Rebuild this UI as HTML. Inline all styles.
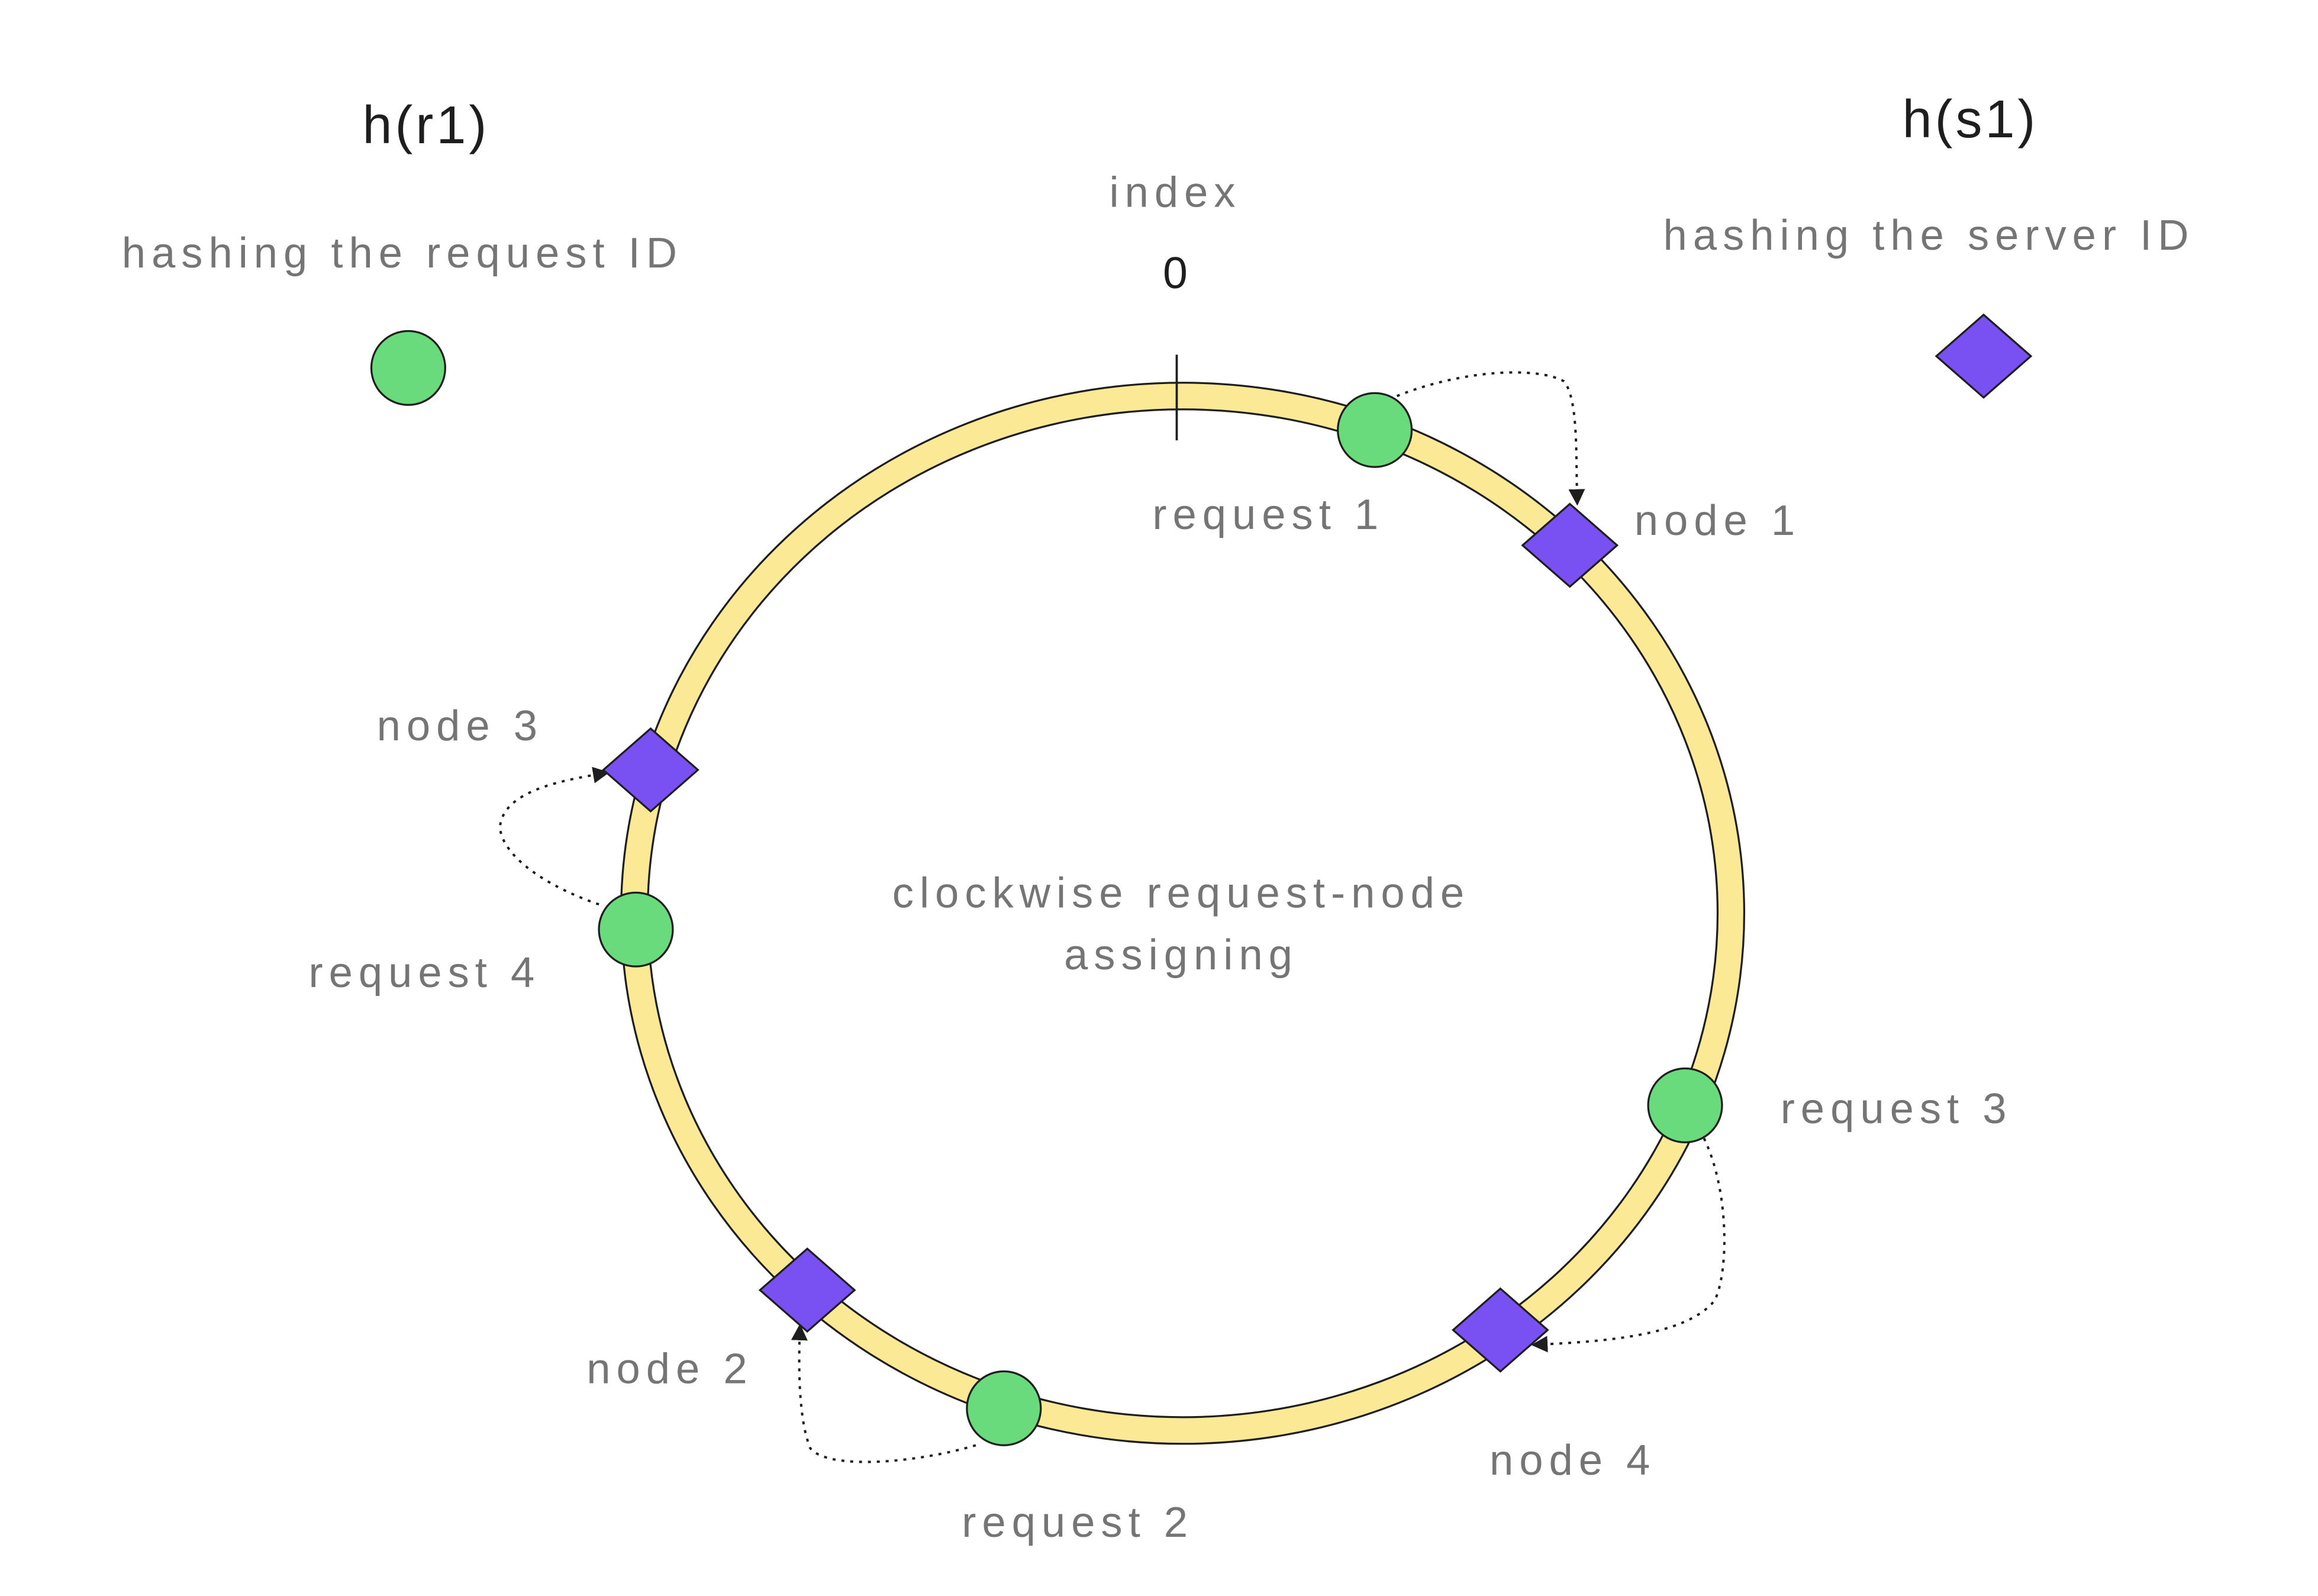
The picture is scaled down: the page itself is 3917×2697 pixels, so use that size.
<!DOCTYPE html>
<html><head><meta charset="utf-8"><style>
html,body{margin:0;padding:0;background:#fff;}
svg{display:block;}
text{font-family:"Liberation Sans",sans-serif;}
</style></head><body>
<svg width="3917" height="2697" viewBox="0 0 1568 1080" xmlns="http://www.w3.org/2000/svg">
<defs>
<marker id="ah" viewBox="0 0 10 10" refX="8" refY="5" markerWidth="7" markerHeight="7" orient="auto-start-reverse">
<path d="M0,0 L10,5 L0,10 z" fill="#1e1e1e"/></marker>
</defs>
<rect width="1568" height="1080" fill="#fff"/>
<ellipse cx="800" cy="618" rx="371" ry="350" fill="none" stroke="#fbe995" stroke-width="18"/>
<ellipse cx="800" cy="618" rx="380" ry="359" fill="none" stroke="#1e1e1e" stroke-width="1.3"/>
<ellipse cx="800" cy="618" rx="362" ry="341" fill="none" stroke="#1e1e1e" stroke-width="1.3"/>
<line x1="796" y1="240" x2="796" y2="298" stroke="#1e1e1e" stroke-width="1.5"/>
<g fill="none" stroke="#1e1e1e" stroke-width="1.6" stroke-dasharray="2,4">
<path d="M945,268 C990,250 1040,248 1058,258 C1068,270 1066,310 1067,340" marker-end="url(#ah)"/>
<path d="M1150,765 C1170,800 1170,860 1160,880 C1140,905 1080,908 1038,910" marker-end="url(#ah)"/>
<path d="M660,978 C620,990 560,995 548,980 C540,960 540,925 541,898" marker-end="url(#ah)"/>
<path d="M405,612 C370,600 340,580 338,560 C340,535 380,528 410,523" marker-end="url(#ah)"/>
</g>
<g fill="#69db7c" stroke="#1e1e1e" stroke-width="1.3">
<circle cx="276" cy="249" r="25"/>
<circle cx="930" cy="291" r="25"/>
<circle cx="1140" cy="748" r="25"/>
<circle cx="679" cy="953" r="25"/>
<circle cx="430" cy="629" r="25"/>
</g>
<g fill="#7950f2" stroke="#1e1e1e" stroke-width="1.3">
<path d="M1342,213 L1374,241 L1342,269 L1310,241 z"/>
<path d="M1062,341 L1094,369 L1062,397 L1030,369 z"/>
<path d="M1015,872 L1047,900 L1015,928 L983,900 z"/>
<path d="M546,845 L578,873 L546,901 L514,873 z"/>
<path d="M440,493 L472,521 L440,549 L408,521 z"/>
</g>
<g fill="#1e1e1e" font-size="36" letter-spacing="2">
<text x="288" y="97" text-anchor="middle">h(r1)</text>
<text x="1333" y="93" text-anchor="middle">h(s1)</text>
<text x="796" y="195" text-anchor="middle" font-size="30">0</text>
</g>
<g fill="#757575" font-size="29" letter-spacing="4">
<text x="795" y="140" text-anchor="middle">index</text>
<text x="272" y="181" text-anchor="middle">hashing the request ID</text>
<text x="1305" y="169" text-anchor="middle">hashing the server ID</text>
<text x="858" y="358" text-anchor="middle">request 1</text>
<text x="1162" y="362" text-anchor="middle">node 1</text>
<text x="311" y="501" text-anchor="middle">node 3</text>
<text x="287" y="668" text-anchor="middle">request 4</text>
<text x="799" y="614" text-anchor="middle">clockwise request-node</text>
<text x="799" y="656" text-anchor="middle">assigning</text>
<text x="1283" y="760" text-anchor="middle">request 3</text>
<text x="453" y="936" text-anchor="middle">node 2</text>
<text x="1064" y="998" text-anchor="middle">node 4</text>
<text x="729" y="1040" text-anchor="middle">request 2</text>
</g>
</svg>
</body></html>
